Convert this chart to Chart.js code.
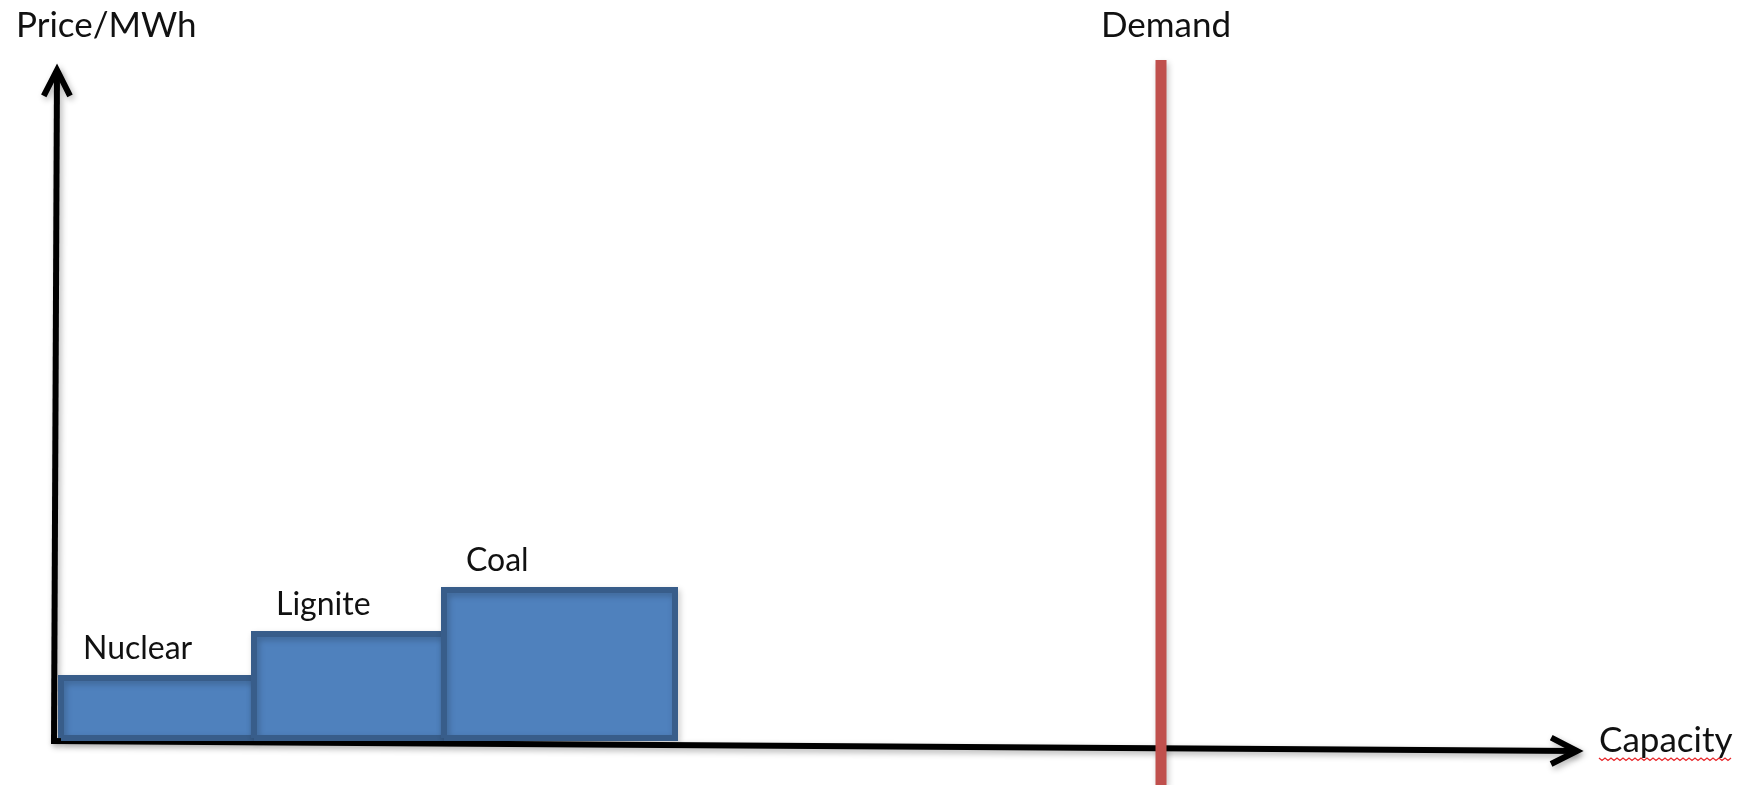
<!DOCTYPE html>
<html>
<head>
<meta charset="utf-8">
<script src="https://cdn.jsdelivr.net/npm/chart.js@4.4.1/dist/chart.umd.min.js"></script>
<style>
  html, body { margin: 0; padding: 0; background: #fff; }
  #wrap { width: 1746px; height: 785px; position: relative; }
</style>
</head>
<body>
<div id="wrap"><canvas id="meritOrder"></canvas></div>
<script>
// merit order blocks: capacity range and price of each plant type
const plants = ['Nuclear', 'Lignite', 'Coal'];
const capFrom = [0.7, 20, 39];
const capTo = [20, 39, 62.1];
const prices = [6, 10.4, 14.8];

// demand level on the capacity axis
const demand = [110.7];
const demandTop = 67.8;

const axisTitles = { y: 'Price/MWh', x: 'Capacity', demand: 'Demand' };

const BLUE = '#4f81bd';
const BLUE_DARK = '#385d8a';
const RED = '#c0504d';
const FONT = 'Lato, "Open Sans", sans-serif';

// every block gets a filled body (x must not go backwards for the filler)
// and a closed outline on top of it
const blockSets = [];
plants.forEach((name, i) => {
    const order = (plants.length - i) * 2 + 1;
    blockSets.push({
        label: name,
        data: [
            { x: capFrom[i], y: 0 },
            { x: capFrom[i], y: prices[i] },
            { x: capTo[i], y: prices[i] },
            { x: capTo[i], y: 0 }
        ],
        borderWidth: 0,
        backgroundColor: BLUE,
        fill: 'origin',
        pointRadius: 0,
        tension: 0,
        order: order + 1
    });
    blockSets.push({
        label: name + ' outline',
        data: [
            { x: capFrom[i], y: 0 },
            { x: capFrom[i], y: prices[i] },
            { x: capTo[i], y: prices[i] },
            { x: capTo[i], y: 0 },
            { x: capFrom[i], y: 0 }
        ],
        borderColor: BLUE_DARK,
        borderWidth: 6,
        borderJoinStyle: 'miter',
        fill: false,
        pointRadius: 0,
        tension: 0,
        order: order
    });
});

const demandSet = {
    label: 'Demand',
    data: [{ x: demand[0], y: -4.7 }, { x: demand[0], y: demandTop }],
    borderColor: RED,
    borderWidth: 11,
    borderCapStyle: 'butt',
    pointRadius: 0,
    fill: false,
    order: 0
};

function arrow(ctx, x1, y1, x2, y2) {
    const ang = Math.atan2(y2 - y1, x2 - x1);
    const back = 29, spread = 0.47;
    ctx.beginPath();
    ctx.moveTo(x1, y1);
    ctx.lineTo(x2, y2);
    ctx.stroke();
    ctx.beginPath();
    ctx.moveTo(x2 - back * Math.cos(ang - spread), y2 - back * Math.sin(ang - spread));
    ctx.lineTo(x2, y2);
    ctx.lineTo(x2 - back * Math.cos(ang + spread), y2 - back * Math.sin(ang + spread));
    ctx.stroke();
}

// black axes with arrow heads, under the blocks; soft shadow on every mark
const axesPlugin = {
    id: 'axes',
    beforeDatasetsDraw(chart) {
        const ctx = chart.ctx;
        const px = v => chart.scales.x.getPixelForValue(v);
        const py = v => chart.scales.y.getPixelForValue(v);
        ctx.save();
        ctx.strokeStyle = '#000';
        ctx.lineWidth = 6;
        ctx.lineCap = 'butt';
        ctx.lineJoin = 'miter';
        ctx.shadowColor = 'rgba(0,0,0,0.3)';
        ctx.shadowBlur = 6;
        ctx.shadowOffsetX = 2;
        ctx.shadowOffsetY = 3;
        arrow(ctx, px(0), py(-0.3), px(0.3), py(66.8));
        arrow(ctx, px(-0.3), py(-0.3), px(152.3), py(-1.3));
        ctx.restore();
    },
    beforeDatasetDraw(chart) {
        const ctx = chart.ctx;
        ctx.save();
        ctx.shadowColor = 'rgba(0,0,0,0.22)';
        ctx.shadowBlur = 6;
        ctx.shadowOffsetX = 2;
        ctx.shadowOffsetY = 3;
    },
    afterDatasetDraw(chart) {
        chart.ctx.restore();
    }
};

// block names, axis titles and the demand caption
const labelPlugin = {
    id: 'labels',
    afterDatasetsDraw(chart) {
        const ctx = chart.ctx;
        const px = v => chart.scales.x.getPixelForValue(v);
        const py = v => chart.scales.y.getPixelForValue(v);
        ctx.save();
        ctx.fillStyle = '#111';
        ctx.textBaseline = 'alphabetic';

        ctx.font = '32px ' + FONT;
        ctx.textAlign = 'left';
        plants.forEach((name, i) => {
            ctx.fillText(name, px(capFrom[i] + 2.2), py(prices[i] + 1.9));
        });

        ctx.font = '35px ' + FONT;
        ctx.fillText(axisTitles.y, px(-3.8), py(70.1));
        ctx.textAlign = 'center';
        ctx.fillText(axisTitles.demand, px(demand[0] + 0.5), py(70.1));
        ctx.textAlign = 'left';
        const cx = px(154.5), cy = py(-1.4);
        ctx.fillText(axisTitles.x, cx, cy);

        // spell-check squiggle under the axis title
        const w = ctx.measureText(axisTitles.x).width;
        ctx.strokeStyle = '#e8262a';
        ctx.lineWidth = 1.3;
        ctx.beginPath();
        for (let x = 0; x <= w; x += 3) {
            const y = cy + 6 + ((x / 3) % 2 === 0 ? 0 : 2.5);
            if (x === 0) ctx.moveTo(cx + x, y); else ctx.lineTo(cx + x, y);
        }
        ctx.stroke();
        ctx.restore();
    }
};

new Chart(document.getElementById('meritOrder'), {
    type: 'line',
    data: { datasets: [...blockSets, demandSet] },
    options: {
        responsive: true,
        maintainAspectRatio: false,
        animation: false,
        layout: { padding: 0 },
        plugins: {
            legend: { display: false },
            tooltip: { enabled: false }
        },
        scales: {
            x: { type: 'linear', display: false, min: -5.4, max: 169.2 },
            y: { type: 'linear', display: false, min: -4.7, max: 73.8 }
        }
    },
    plugins: [axesPlugin, labelPlugin]
});
</script>
</body>
</html>
